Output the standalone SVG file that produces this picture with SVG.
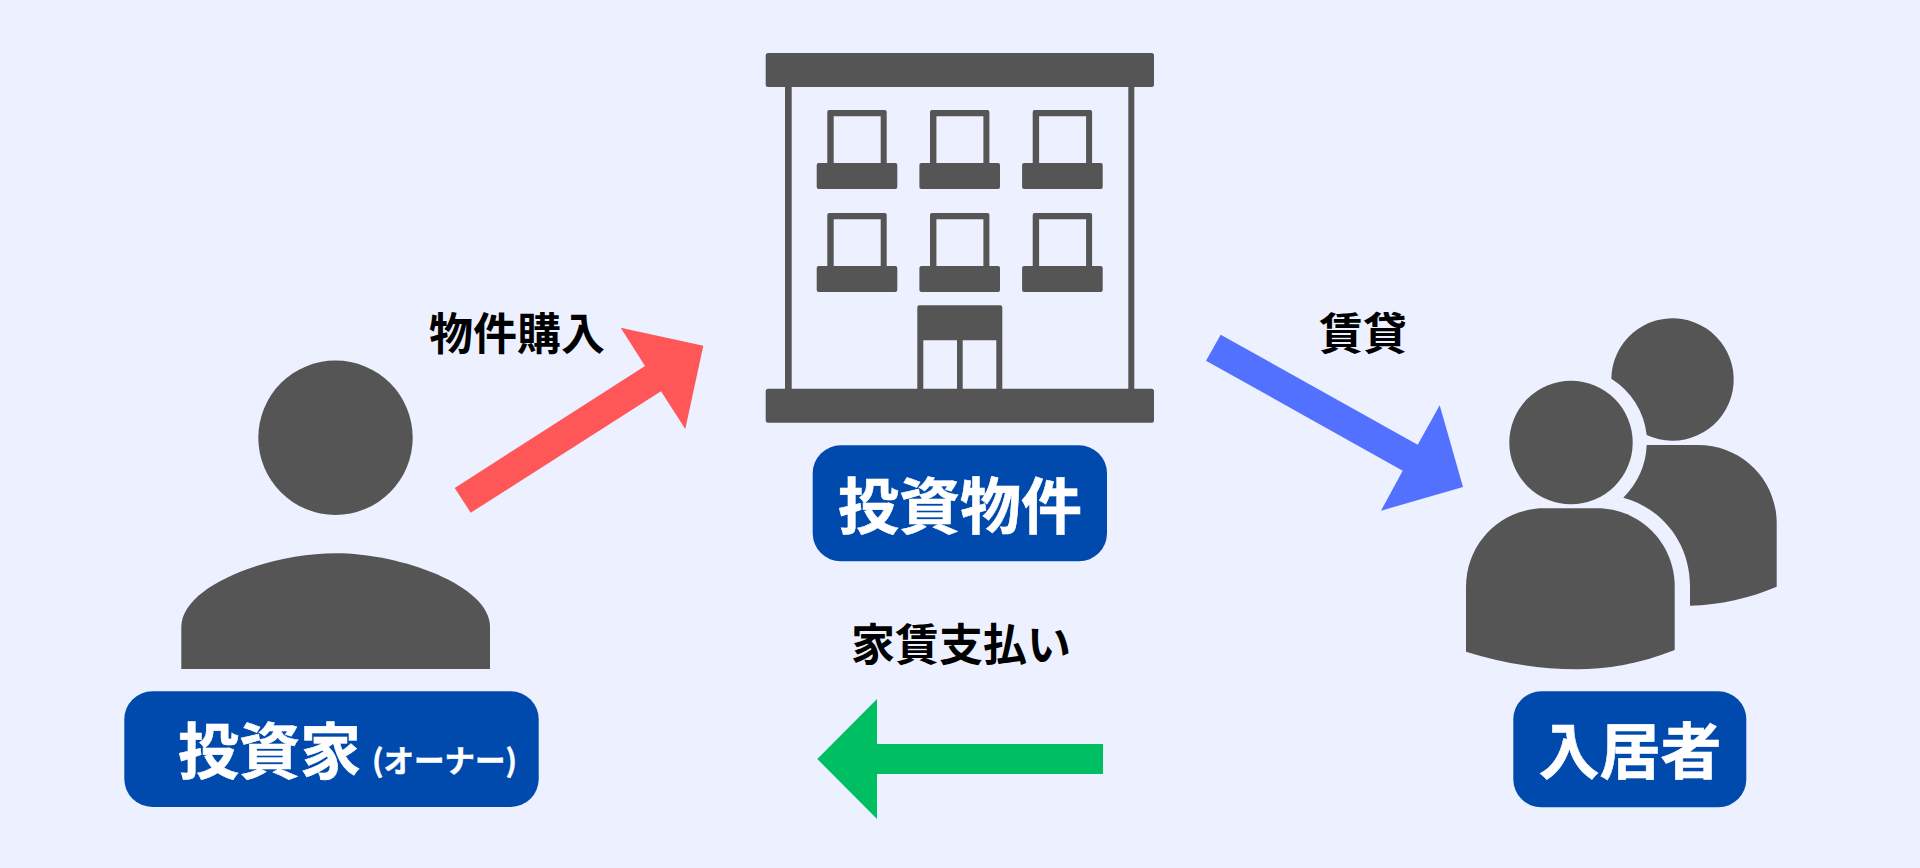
<svg xmlns="http://www.w3.org/2000/svg" xmlns:xlink="http://www.w3.org/1999/xlink" width="1920" height="868" viewBox="0 0 1920 868">
<style>
.icon{fill:#555555}
.badge{fill:#004AAD}
text{font-family:"Noto Sans CJK JP","Noto Sans CJK SC",sans-serif;font-weight:700}
.big{fill:#fff;font-size:61px;stroke:#fff;stroke-width:.6px}
.small{fill:#fff;font-size:30.5px;stroke:#fff;stroke-width:.5px}
.lbl{fill:#000;font-size:44px}
</style>
<defs>
<g id="window">
<path class="icon" fill-rule="evenodd" d="M829.3 110H884.7Q886.7 110 886.7 112V163H895.3Q897.3 163 897.3 165V187Q897.3 189 895.3 189H818.7Q816.7 189 816.7 187V165Q816.7 163 818.7 163H827.3V112Q827.3 110 829.3 110ZM833.7 116.3V163H880.7V116.3Z"/>
</g>
</defs>
<rect width="1920" height="868" fill="#ECF0FF"/>
<g id="connectors">
<polygon id="arrow-purchase" fill="#FF5757" points="454.7,488 645,366 620.7,327.7 703.3,345.7 685.3,429 661,391.3 470.7,512.7"/>
<polygon id="arrow-lease" fill="#5271FF" points="1220.7,334.7 1417.7,444.7 1439.7,405.3 1463,487 1381,510.7 1402.7,470.7 1206,360.7"/>
<polygon id="arrow-rent" fill="#00BF63" points="1103,744 877,744 877,699 817.3,759 877,819 877,774 1103,774"/>
</g>
<g id="node-building">
<rect class="icon" x="765.7" y="53" width="388.3" height="34" rx="2.5"/>
<rect class="icon" x="785" y="87" width="6.7" height="302"/>
<rect class="icon" x="1128.3" y="87" width="6" height="302"/>
<use xlink:href="#window"/>
<use xlink:href="#window" x="102.7"/>
<use xlink:href="#window" x="205.4"/>
<use xlink:href="#window" y="103"/>
<use xlink:href="#window" x="102.7" y="103"/>
<use xlink:href="#window" x="205.4" y="103"/>
<path class="icon" fill-rule="evenodd" d="M919.3 305.3H1000.3Q1002.3 305.3 1002.3 307.3V389H917.3V307.3Q917.3 305.3 919.3 305.3ZM923.3 340.3V389H957V340.3ZM962.7 340.3V389H996.3V340.3Z"/>
<rect class="icon" x="765.7" y="388.7" width="388.3" height="34" rx="2.5"/>
</g>
<g id="node-building-label">
<rect class="badge" x="812.7" y="445.3" width="294.3" height="116" rx="28"/>
<text class="big" x="960" y="529" text-anchor="middle">投資物件</text>
</g>
<g id="node-investor">
<circle class="icon" cx="335.5" cy="437.7" r="77.2"/>
<path class="icon" d="M181.3 669V627C181.3 585 270 553.3 335.5 553.3C400 553.3 490 585 490 627V669Z"/>
</g>
<g id="node-investor-label">
<rect class="badge" x="124.3" y="691.3" width="414.4" height="115.7" rx="28"/>
<text class="big" x="178" y="774">投資家</text>
<text class="small" x="372" y="772">(オーナー)</text>
</g>
<g id="node-tenant">
<path class="icon" d="M1611.3 378.7A61.2 61.2 0 1 1 1646.7 435A76 76 0 0 0 1611.3 378.7Z"/>
<path class="icon" d="M1646.7 445H1698C1742 445 1776.7 480 1776.7 523V586.7C1750 598 1720 605 1690 605.7V586C1690 543 1662 508 1623.3 497.7C1638 483 1646 465 1646.7 445Z"/>
<circle class="icon" cx="1571" cy="442.5" r="61.7"/>
<path class="icon" d="M1466 651.7V586.7C1466 543 1501 508.3 1544 508.3H1597C1640 508.3 1674.7 543 1674.7 586.7V650C1640 664 1605 669.3 1577 669.3C1535 669.3 1500 662 1466 651.7Z"/>
</g>
<g id="node-tenant-label">
<rect class="badge" x="1513.3" y="691.3" width="233" height="116" rx="28"/>
<text class="big" x="1630" y="774" text-anchor="middle">入居者</text>
</g>
<text class="lbl" x="429" y="350">物件購入</text>
<text class="lbl" x="1319" y="350">賃貸</text>
<text class="lbl" x="851" y="661">家賃支払い</text>
</svg>
